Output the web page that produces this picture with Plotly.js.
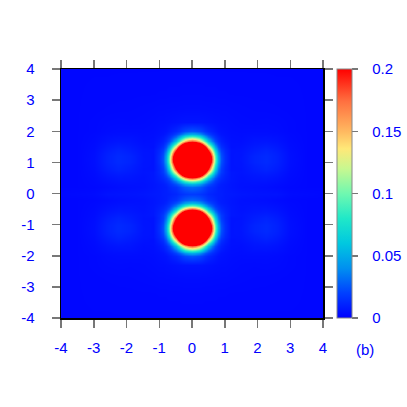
<!DOCTYPE html>
<html>
<head>
<meta charset="utf-8">
<script src="https://cdn.plot.ly/plotly-3.0.1.min.js"></script>
<style>
    body { margin: 0; background: #ffffff; }
</style>
</head>
<body>
<div id="chart" style="width:407px;height:407px;"></div>
<script>
/*eslint-env browser*/

// values for the upper right quarter (x >= 0, y >= 0),
// the picture is mirror symmetric in x and in y
var xNodes = [0, 0.1, 0.2, 0.3, 0.4, 0.5, 0.6, 0.7, 0.8, 0.9, 1.0, 1.2, 1.5, 1.9, 2.25, 2.6, 3.0, 3.5, 4.0];
var yNodes = [0, 0.2, 0.3, 0.4, 0.5, 0.6, 0.7, 0.8, 0.9, 1.0, 1.1, 1.2, 1.3, 1.4, 1.5, 1.6, 1.7, 1.8, 1.9, 2.0, 2.3, 2.7, 3.2, 4.0];

// one row per yNodes entry, one column per xNodes entry
var zQuarter = [
    [0.018, 0.018, 0.017, 0.0156, 0.014, 0.012, 0.011, 0.010, 0.0095, 0.009, 0.008, 0.0075, 0.0066, 0.006, 0.0058, 0.0055, 0.0035, 0.003, 0.0025],
    [0.030, 0.029, 0.027, 0.024, 0.020, 0.016, 0.014, 0.012, 0.0095, 0.0086, 0.0078, 0.0065, 0.0052, 0.0048, 0.0043, 0.0035, 0.0025, 0.002, 0.002],
    [0.054, 0.052, 0.046, 0.038, 0.030, 0.024, 0.018, 0.0145, 0.011, 0.009, 0.008, 0.0065, 0.0052, 0.0053, 0.005, 0.004, 0.0028, 0.002, 0.002],
    [0.104, 0.10, 0.088, 0.071, 0.052, 0.037, 0.026, 0.018, 0.014, 0.011, 0.009, 0.0068, 0.0055, 0.006, 0.0058, 0.0048, 0.003, 0.002, 0.002],
    [0.184, 0.177, 0.154, 0.124, 0.092, 0.062, 0.038, 0.025, 0.017, 0.013, 0.010, 0.007, 0.0055, 0.0065, 0.0068, 0.0055, 0.0032, 0.002, 0.002],
    [0.283, 0.273, 0.243, 0.20, 0.147, 0.099, 0.061, 0.036, 0.023, 0.015, 0.011, 0.007, 0.0058, 0.0072, 0.008, 0.0065, 0.0035, 0.002, 0.002],
    [0.37, 0.36, 0.33, 0.28, 0.215, 0.147, 0.091, 0.051, 0.029, 0.018, 0.012, 0.007, 0.0062, 0.0082, 0.0095, 0.0075, 0.0037, 0.002, 0.002],
    [0.43, 0.42, 0.40, 0.355, 0.28, 0.197, 0.12, 0.067, 0.034, 0.019, 0.012, 0.006, 0.006, 0.009, 0.011, 0.0085, 0.004, 0.002, 0.002],
    [0.47, 0.46, 0.435, 0.40, 0.33, 0.24, 0.15, 0.084, 0.042, 0.022, 0.013, 0.006, 0.0063, 0.010, 0.012, 0.0095, 0.0043, 0.002, 0.002],
    [0.49, 0.48, 0.46, 0.42, 0.36, 0.27, 0.173, 0.096, 0.048, 0.024, 0.014, 0.006, 0.0064, 0.011, 0.0129, 0.010, 0.0044, 0.002, 0.002],
    [0.50, 0.49, 0.47, 0.43, 0.37, 0.28, 0.18, 0.10, 0.05, 0.025, 0.014, 0.006, 0.0065, 0.011, 0.013, 0.010, 0.0045, 0.002, 0.002],
    [0.49, 0.48, 0.46, 0.42, 0.36, 0.27, 0.173, 0.096, 0.048, 0.024, 0.014, 0.006, 0.0064, 0.011, 0.0129, 0.010, 0.0044, 0.002, 0.002],
    [0.47, 0.46, 0.435, 0.40, 0.33, 0.24, 0.15, 0.084, 0.042, 0.022, 0.013, 0.006, 0.0063, 0.010, 0.012, 0.0095, 0.0043, 0.002, 0.002],
    [0.43, 0.42, 0.40, 0.355, 0.28, 0.197, 0.12, 0.067, 0.034, 0.019, 0.012, 0.006, 0.006, 0.009, 0.011, 0.0085, 0.004, 0.002, 0.002],
    [0.37, 0.36, 0.33, 0.28, 0.215, 0.144, 0.088, 0.048, 0.026, 0.015, 0.010, 0.005, 0.0055, 0.008, 0.0095, 0.0075, 0.0037, 0.002, 0.002],
    [0.28, 0.27, 0.24, 0.197, 0.144, 0.096, 0.058, 0.033, 0.020, 0.012, 0.0085, 0.005, 0.005, 0.007, 0.008, 0.0065, 0.0035, 0.002, 0.002],
    [0.18, 0.173, 0.15, 0.12, 0.088, 0.058, 0.035, 0.022, 0.014, 0.0098, 0.007, 0.0048, 0.0045, 0.0062, 0.0066, 0.0055, 0.0032, 0.002, 0.002],
    [0.10, 0.096, 0.084, 0.067, 0.048, 0.033, 0.022, 0.015, 0.011, 0.0078, 0.006, 0.0045, 0.0042, 0.0054, 0.0055, 0.0048, 0.003, 0.002, 0.002],
    [0.05, 0.048, 0.042, 0.034, 0.026, 0.020, 0.014, 0.011, 0.008, 0.006, 0.0052, 0.0043, 0.004, 0.0045, 0.0045, 0.004, 0.0028, 0.002, 0.002],
    [0.025, 0.024, 0.022, 0.019, 0.015, 0.012, 0.0098, 0.0078, 0.006, 0.0053, 0.0048, 0.004, 0.0037, 0.0038, 0.0038, 0.0035, 0.0025, 0.002, 0.002],
    [0.006, 0.006, 0.006, 0.0058, 0.0055, 0.0052, 0.0048, 0.0045, 0.0043, 0.004, 0.004, 0.0036, 0.0032, 0.003, 0.0032, 0.003, 0.0025, 0.002, 0.002],
    [0.0036, 0.0036, 0.0036, 0.0035, 0.0035, 0.0034, 0.0034, 0.0033, 0.0033, 0.0032, 0.0032, 0.003, 0.0028, 0.0026, 0.0025, 0.0024, 0.0022, 0.002, 0.002],
    [0.0026, 0.0026, 0.0026, 0.0026, 0.0025, 0.0025, 0.0025, 0.0025, 0.0024, 0.0024, 0.0024, 0.0023, 0.0023, 0.0022, 0.0022, 0.0021, 0.0021, 0.002, 0.002],
    [0.002, 0.002, 0.002, 0.002, 0.002, 0.002, 0.002, 0.002, 0.002, 0.002, 0.002, 0.002, 0.002, 0.002, 0.002, 0.002, 0.002, 0.002, 0.002]
];

var axisTicks = [-4, -3, -2, -1, 0, 1, 2, 3, 4];
var axisTickText = ['-4', '-3', '-2', '-1', '0', '1', '2', '3', '4'];
var barTicks = [0, 0.05, 0.1, 0.15, 0.2];
var barTickText = ['0', '0.05', '0.1', '0.15', '0.2'];
var panelLabel = '(b)';

var blue = '#0000ff';
var fontFamily = 'Liberation Sans, Arial, Helvetica, sans-serif';

window.onload = function() {
    drawChart();
};

// -4 ... -0.1, 0, 0.1 ... 4
function mirrorNodes(nodes) {
    let out = [];
    for (let i = nodes.length - 1; i > 0; i--) {
        out.push(-nodes[i]);
    }
    return out.concat(nodes);
}

function mirrorRow(row) {
    let out = [];
    for (let i = row.length - 1; i > 0; i--) {
        out.push(row[i]);
    }
    return out.concat(row);
}

function mirrorGrid(quarter) {
    let rows = [];
    for (let j = quarter.length - 1; j > 0; j--) {
        rows.push(mirrorRow(quarter[j]));
    }
    for (let j = 0; j < quarter.length; j++) {
        rows.push(mirrorRow(quarter[j]));
    }
    return rows;
}

function axisStyle(standoff) {
    return {
        range: [-4, 4],
        tickvals: axisTicks,
        ticktext: axisTickText,
        ticks: 'outside',
        ticklen: 8,
        tickwidth: 1.5,
        tickcolor: '#777777',
        ticklabelstandoff: standoff,
        showline: true,
        linecolor: '#000000',
        linewidth: 1.5,
        mirror: 'ticks',
        showgrid: false,
        zeroline: false,
        tickfont: {family: fontFamily, size: 15, color: blue}
    };
}

function drawChart() {
    // push the colour bar labels away from the bar (en space + quarter em space)
    let barLabels = barTickText.map(t => '\u2002\u2005' + t);

    let trace = {
        type: 'heatmap',
        x: mirrorNodes(xNodes),
        y: mirrorNodes(yNodes),
        z: mirrorGrid(zQuarter),
        zmin: 0,
        zmax: 0.2,
        zsmooth: 'best',
        colorscale: [
            [0, '#0000ff'],
            [0.1, '#0040ff'],
            [0.2, '#0090f0'],
            [0.3, '#00c8e0'],
            [0.4, '#20e8c8'],
            [0.5, '#70f8b0'],
            [0.6, '#c8f890'],
            [0.68, '#ffe878'],
            [0.75, '#ffb860'],
            [0.87, '#ff7040'],
            [1, '#ff0000']
        ],
        colorbar: {
            x: 1.053,
            xanchor: 'left',
            xpad: 0,
            y: 0.5,
            yanchor: 'middle',
            ypad: 0,
            len: 1,
            lenmode: 'fraction',
            thickness: 15,
            outlinecolor: '#888888',
            outlinewidth: 1,
            ticks: 'outside',
            ticklen: 6,
            tickwidth: 1.5,
            tickcolor: '#777777',
            tickvals: barTicks,
            ticktext: barLabels,
            tickfont: {family: fontFamily, size: 15, color: blue}
        },
        hoverinfo: 'skip'
    };

    let layout = {
        width: 407,
        height: 407,
        margin: {l: 61, r: 84, t: 69, b: 89, autoexpand: false},
        paper_bgcolor: '#ffffff',
        plot_bgcolor: '#ffffff',
        showlegend: false,
        xaxis: axisStyle(7),
        yaxis: axisStyle(14),
        annotations: [{
            text: panelLabel,
            xref: 'paper',
            yref: 'paper',
            x: 1.16,
            y: -0.1285,
            xanchor: 'center',
            yanchor: 'middle',
            showarrow: false,
            font: {family: fontFamily, size: 15, color: blue}
        }]
    };

    Plotly.newPlot('chart', [trace], layout, {staticPlot: true, displayModeBar: false});
}
</script>
</body>
</html>
